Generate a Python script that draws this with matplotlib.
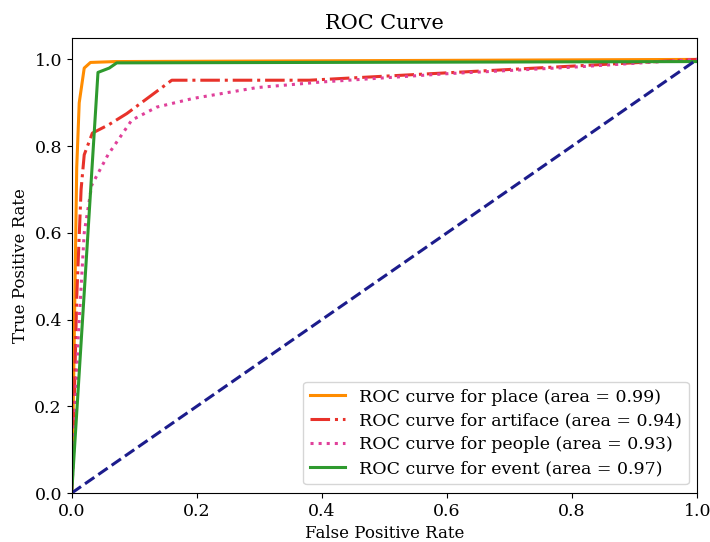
import matplotlib
matplotlib.use("Agg")
import matplotlib.pyplot as plt

plt.rcParams['font.family'] = ['DejaVu Serif']

place_fpr = [0, 0.003, 0.008, 0.012, 0.02, 0.03, 0.07, 1.0]
place_tpr = [0, 0.25, 0.75, 0.90, 0.98, 0.993, 0.995, 1.0]

artiface_fpr = [0, 0.003, 0.008, 0.015, 0.02, 0.033, 0.06, 0.088, 0.16, 0.38, 1.0]
artiface_tpr = [0, 0.15, 0.45, 0.70, 0.78, 0.83, 0.85, 0.875, 0.952, 0.952, 1.0]

people_fpr = [0, 0.005, 0.01, 0.02, 0.032, 0.058, 0.096, 0.136, 0.194, 0.296, 0.4, 0.6, 0.8, 1.0]
people_tpr = [0, 0.15, 0.35, 0.60, 0.71, 0.78, 0.86, 0.89, 0.91, 0.935, 0.948, 0.967, 0.982, 1.0]

event_fpr = [0, 0.042, 0.06, 0.072, 1.0]
event_tpr = [0, 0.97, 0.98, 0.992, 0.995]

labels = ["ROC curve for place (area = 0.99)",
          "ROC curve for artiface (area = 0.94)",
          "ROC curve for people (area = 0.93)",
          "ROC curve for event (area = 0.97)"]

fig = plt.figure(figsize=(7.1, 5.42), dpi=100)
ax = fig.add_axes([0.101, 0.0904, 0.881, 0.840])
ax.plot(place_fpr, place_tpr, color='darkorange', lw=2.2, label=labels[0])
ax.plot(artiface_fpr, artiface_tpr, color='#e8322a', lw=2.2, linestyle='-.', label=labels[1])
ax.plot(people_fpr, people_tpr, color='#e0409a', lw=2.2, linestyle=':', label=labels[2])
ax.plot(event_fpr, event_tpr, color='#2e9a2e', lw=2.2, label=labels[3])
ax.plot([0, 1], [0, 1], color='#1c1c8c', lw=2.2, linestyle='--')
ax.set_xlim(0.0, 1.0)
ax.set_ylim(0.0, 1.05)
ax.set_xlabel('False Positive Rate', fontsize=12)
ax.set_ylabel('True Positive Rate', fontsize=12)
ax.set_title('ROC Curve', fontsize=15)
ax.tick_params(labelsize=12.5)
ax.legend(loc='lower right', fontsize=12.5, handlelength=2.0, labelspacing=0.4)
fig.savefig('out.png', dpi=100)
